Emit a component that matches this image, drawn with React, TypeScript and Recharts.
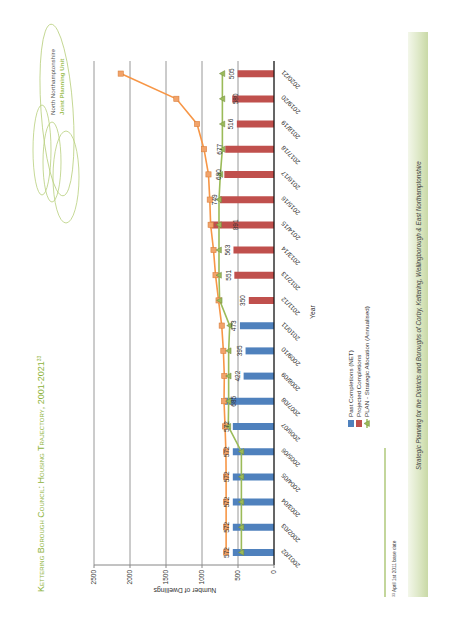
import React from 'react';
import {
  ComposedChart,
  Bar,
  Line,
  XAxis,
  YAxis,
  CartesianGrid,
  LabelList,
} from 'recharts';

// values
const years = [
  '2001/02', '2002/03', '2003/04', '2004/05', '2005/06', '2006/07', '2007/08',
  '2008/09', '2009/10', '2010/11', '2011/12', '2012/13', '2013/14', '2014/15',
  '2015/16', '2016/17', '2017/18', '2018/19', '2019/20', '2020/21',
];
const pastCompletions = [572, 572, 572, 572, 572, 572, 685, 422, 395, 473, null, null, null, null, null, null, null, null, null, null];
const projectedCompletions = [null, null, null, null, null, null, null, null, null, null, 350, 551, 563, 891, 749, 690, 677, 516, 580, 505];
const planAllocation = [453, 453, 453, 453, 453, 635, 630, 630, 630, 615, 755, 764, 764, 764, 764, 745, 717, 717, 717, 717];
const trendLine = [665, 665, 665, 665, 668, 680, 694, 690, 703, 726, 770, 812, 840, 880, 892, 910, 972, 1069, 1356, 2129];
const valueTicks = [0, 500, 1000, 1500, 2000, 2500];

const legendItems = [
  { name: 'Past Completions (NET)', color: '#4f81bd', kind: 'bar' },
  { name: 'Projected Completions', color: '#c0504d', kind: 'bar' },
  { name: 'PLAN - Strategic Allocation (Annualised)', color: '#9bbb59', kind: 'line' },
];

const rows = years.map((year, i) => ({
  year,
  past: pastCompletions[i],
  projected: projectedCompletions[i],
  plan: planAllocation[i],
  trend: trendLine[i],
}));

const FONT = '"Liberation Sans", Arial, sans-serif';
const GREEN = '#8db33a';

// a few data labels were dragged down onto their bars in the original (keyed by label text)
const labelNudge: Record<string, number> = { '685': 15, '891': 32, '580': 9 };

function Triangle(props: any) {
  const { cx, cy } = props;
  if (cx == null || cy == null) return null;
  return (
    <path
      d={`M${cx},${cy - 3} L${cx + 3},${cy + 2.4} L${cx - 3},${cy + 2.4} Z`}
      fill="#9bbb59"
      stroke="#71893f"
      strokeWidth={0.5}
    />
  );
}

function Square(props: any) {
  const { cx, cy } = props;
  if (cx == null || cy == null) return null;
  return <rect x={cx - 2.6} y={cy - 2.6} width={5.2} height={5.2} fill="#f2a36a" stroke="#d9803f" strokeWidth={0.6} />;
}

function BarLabel(props: any) {
  const { value } = props;
  if (value == null) return null;
  const vb = props.viewBox ?? props;
  const x = (props.x ?? vb.x) + (props.width ?? vb.width) / 2;
  const y = props.y ?? vb.y;
  const nudge = labelNudge[String(value)] ?? 0;
  return (
    <text x={x} y={y - 3.5 + nudge} textAnchor="middle" fontSize={6.5} fill="#333" fontFamily={FONT}>
      {value}
    </text>
  );
}

function YearTick(props: any) {
  const { x, y, payload } = props;
  const ax = x + 4;
  const ay = y + 10;
  return (
    <text
      x={ax}
      y={ay}
      transform={`rotate(-45, ${ax}, ${ay})`}
      textAnchor="end"
      fontSize={6.5}
      fill="#333"
      fontFamily={FONT}
    >
      {payload.value}
    </text>
  );
}

function Decorations() {
  return (
    <svg width={640} height={452} style={{ position: 'absolute', left: 0, top: 0, pointerEvents: 'none' }}>
      <defs>
        <linearGradient id="band" x1="0" y1="0" x2="0" y2="1">
          <stop offset="0" stopColor="#f3f7ea" />
          <stop offset="0.5" stopColor="#dfe9c9" />
          <stop offset="1" stopColor="#c9d9a6" />
        </linearGradient>
      </defs>

      {/* title */}
      <text x={48} y={44} fontSize={9} fill={GREEN} fontFamily={FONT} style={{ fontVariant: 'small-caps' }}>
        Kettering Borough Council: Housing Trajectory, 2001-2021
        <tspan fontSize={5} dy={-3.5}>33</tspan>
      </text>

      {/* logo */}
      <g fill="none" stroke="#b7cf7c" strokeWidth={0.8}>
        <ellipse cx={530} cy={57} rx={86} ry={16} transform="rotate(-4 530 57)" />
        <ellipse cx={490} cy={42} rx={45} ry={9} />
        <ellipse cx={478} cy={52} rx={40} ry={9} />
        <ellipse cx={463} cy={66} rx={46} ry={13} />
      </g>
      <text x={525} y={55} fontSize={6.2} fill="#555" fontFamily={FONT}>North Northamptonshire</text>
      <text x={525} y={63.5} fontSize={6.2} fill="#9fc15a" fontWeight="bold" fontFamily={FONT}>Joint Planning Unit</text>

      {/* axis titles */}
      <text
        x={50}
        y={185}
        transform="rotate(-90, 50, 185)"
        textAnchor="middle"
        dominantBaseline="middle"
        fontSize={6.8}
        fill="#333"
        fontFamily={FONT}
      >
        Number of Dwellings
      </text>
      <text x={328} y={315} textAnchor="middle" fontSize={6.8} fill="#333" fontFamily={FONT}>Year</text>

      {/* footnote */}
      <line x1={43} x2={192} y1={385} y2={385} stroke="#9bbb59" strokeWidth={1.2} />
      <text x={43} y={396} fontSize={4.8} fill="#444" fontFamily={FONT}>
        <tspan fontSize={3.5} dy={-1.5}>33</tspan>
        <tspan dy={1.5}> April 1st 2011 base date</tspan>
      </text>

      {/* footer band */}
      <rect x={43} y={408} width={565} height={20} fill="url(#band)" />
      <text x={170} y={421} fontSize={6.3} fontStyle="italic" fill="#444" fontFamily={FONT}>
        Strategic Planning for the Districts and Boroughs of Corby, Kettering, Wellingborough &amp; East Northamptonshire
      </text>
    </svg>
  );
}

function ChartLegend() {
  return (
    <svg width={200} height={30} style={{ position: 'absolute', left: 212, top: 346, pointerEvents: 'none' }}>
      {legendItems.map((item, i) => {
        const cy = 5 + i * 8;
        return (
          <g key={item.name}>
            {item.kind === 'bar' ? (
              <rect x={1} y={cy - 3} width={7} height={6} fill={item.color} />
            ) : (
              <g>
                <line x1={0} x2={9} y1={cy} y2={cy} stroke={item.color} strokeWidth={1.5} />
                <Triangle cx={4.5} cy={cy} />
              </g>
            )}
            <text x={11} y={cy + 2.2} fontSize={6.2} fill="#333" fontFamily={FONT}>
              {item.name}
            </text>
          </g>
        );
      })}
    </svg>
  );
}

export default function App() {
  return (
    <div style={{ position: 'fixed', left: 0, top: 0, width: 452, height: 640, overflow: 'hidden', background: '#fff' }}>
      <div
        style={{
          position: 'absolute',
          left: 0,
          top: 0,
          width: 640,
          height: 452,
          transformOrigin: '0 0',
          transform: 'translateY(640px) rotate(-90deg)',
          fontFamily: FONT,
        }}
      >
        <Decorations />
        <div style={{ position: 'absolute', left: 0, top: 0 }}>
          <ComposedChart
            width={640}
            height={452}
            data={rows}
            margin={{ top: 94, right: 61, bottom: 148, left: 0 }}
          >
            <CartesianGrid vertical={false} stroke="#8c8c8c" strokeWidth={0.9} />
            <XAxis
              dataKey="year"
              interval={0}
              height={30}
              tickLine={false}
              tickSize={0}
              tickMargin={0}
              axisLine={{ stroke: '#000', strokeWidth: 1 }}
              tick={<YearTick />}
            />
            <YAxis
              width={75}
              domain={[0, 2500]}
              ticks={valueTicks}
              interval={0}
              tickSize={3}
              tickMargin={2}
              tickLine={{ stroke: '#868686' }}
              axisLine={{ stroke: '#868686' }}
              tick={{ fontSize: 6.5, fill: '#333', fontFamily: FONT }}
            />
            <Bar dataKey="past" stackId="c" fill="#4f81bd" barSize={7} isAnimationActive={false}>
              <LabelList dataKey="past" content={<BarLabel />} />
            </Bar>
            <Bar dataKey="projected" stackId="c" fill="#c0504d" barSize={7} isAnimationActive={false}>
              <LabelList dataKey="projected" content={<BarLabel />} />
            </Bar>
            <Line
              dataKey="trend"
              stroke="#f79646"
              strokeWidth={1.6}
              dot={<Square />}
              activeDot={false}
              isAnimationActive={false}
            />
            <Line
              dataKey="plan"
              stroke="#9bbb59"
              strokeWidth={1.6}
              dot={<Triangle />}
              activeDot={false}
              isAnimationActive={false}
            />
          </ComposedChart>
        </div>
        <ChartLegend />
      </div>
    </div>
  );
}
